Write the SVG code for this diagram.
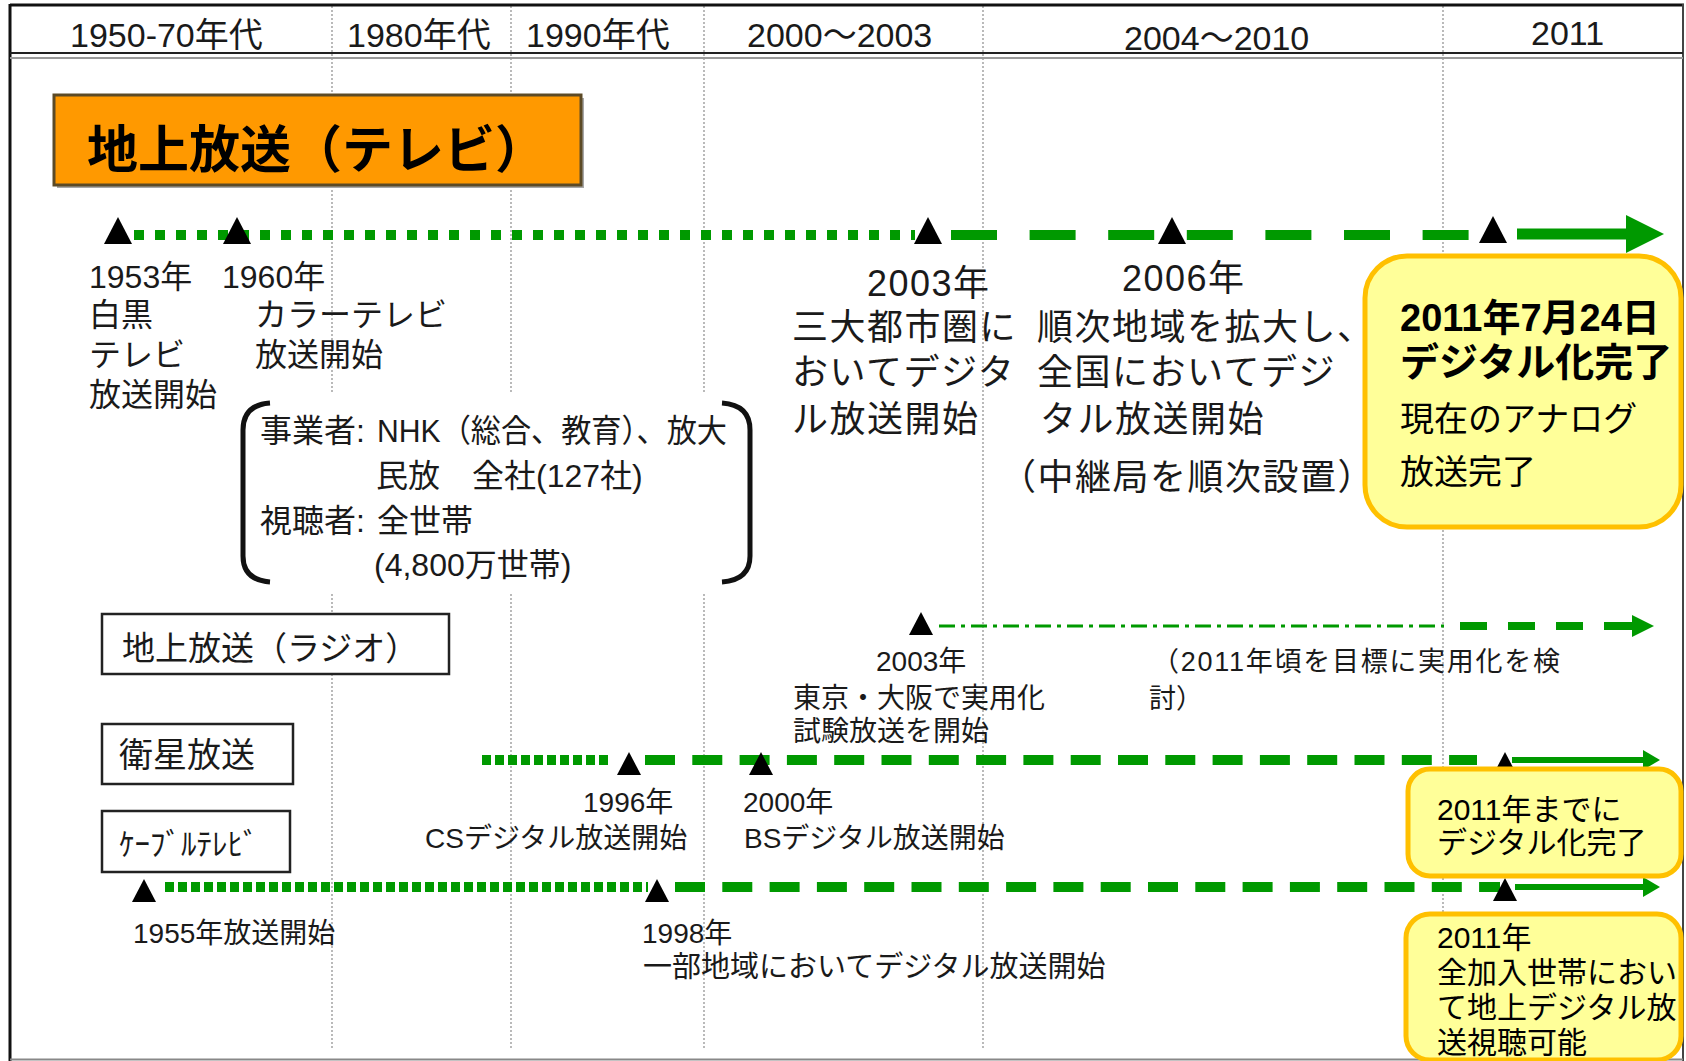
<svg xmlns="http://www.w3.org/2000/svg" width="1686" height="1061" viewBox="0 0 1686 1061">
<style>
text{font-family:'Liberation Sans','Noto Sans CJK JP',sans-serif;fill:#1a1a1a}
.hd{font-size:34px}
.l32{font-size:32px}
.l36{font-size:36px;letter-spacing:1.5px}
.l28{font-size:28px}
.l30{font-size:30px;fill:#000}
.yb{fill:#FFFF99;stroke:#FFC000;stroke-width:5}
.box{fill:#fff;stroke:#222;stroke-width:2.5}
.div{stroke:#8c8c8c;stroke-width:1.2;stroke-dasharray:2 2}
.g{fill:none;stroke:#009900}
.tri{fill:#000}
</style>
<defs>
<path id="triL" d="M0,-17 L14,10 L-14,10 Z"/>
<path id="triS" d="M0,-13 L12,10 L-12,10 Z"/>
<marker id="headBig" markerUnits="userSpaceOnUse" markerWidth="40" markerHeight="40" refX="0" refY="19" orient="auto"><path d="M0,0 L38,19 L0,38 Z" fill="#009900"/></marker>
<marker id="headSm" markerUnits="userSpaceOnUse" markerWidth="20" markerHeight="22" refX="0" refY="10" orient="auto"><path d="M0,0 L17,10 L0,20 Z" fill="#009900"/></marker>
<marker id="headRadio" markerUnits="userSpaceOnUse" markerWidth="24" markerHeight="24" refX="0" refY="11" orient="auto"><path d="M0,0 L22,11 L0,22 Z" fill="#009900"/></marker>
</defs>

<g id="frame">
<rect x="0" y="0" width="1686" height="1061" fill="#fff"/>
<g id="dividers">
<line class="div" x1="332" y1="6" x2="332" y2="1048"/>
<line class="div" x1="511" y1="6" x2="511" y2="1048"/>
<line class="div" x1="704" y1="6" x2="704" y2="1048"/>
<line class="div" x1="983" y1="6" x2="983" y2="1048"/>
<line class="div" x1="1443" y1="6" x2="1443" y2="1048"/>
</g>
<line x1="10" y1="5" x2="1684" y2="5" stroke="#111" stroke-width="3"/>
<line x1="10" y1="4" x2="10" y2="1061" stroke="#111" stroke-width="3"/>
<line x1="1683" y1="4" x2="1683" y2="1061" stroke="#444" stroke-width="2"/>
<line x1="10" y1="1059.5" x2="1683" y2="1059.5" stroke="#888" stroke-width="2"/>
<line x1="10" y1="53" x2="1683" y2="53" stroke="#222" stroke-width="2"/>
<line x1="10" y1="58" x2="1683" y2="58" stroke="#9a9a9a" stroke-width="2"/>
</g>

<g id="header">
<text class="hd" x="70" y="47">1950-70年代</text>
<text class="hd" x="347" y="47">1980年代</text>
<text class="hd" x="526" y="47">1990年代</text>
<text class="hd" x="747" y="47">2000～2003</text>
<text class="hd" x="1124" y="50">2004～2010</text>
<text class="hd" x="1531" y="45">2011</text>
</g>

<g id="title-tv">
<rect x="57" y="98" width="527" height="90" fill="#a8a8a8"/>
<rect x="54" y="95" width="527" height="90" fill="#FF9900" stroke="#5c4a26" stroke-width="3"/>
<text x="87" y="168" font-size="51" font-weight="bold" style="fill:#000">地上放送（テレビ）</text>
</g>

<g id="tv-labels-left">
<text class="l32" x="89" y="288">1953年</text>
<text class="l32" x="89" y="326">白黒</text>
<text class="l32" x="89" y="366">テレビ</text>
<text class="l32" x="89" y="406">放送開始</text>
<text class="l32" x="222" y="288">1960年</text>
<text class="l32" x="255" y="326">カラーテレビ</text>
<text class="l32" x="255" y="366">放送開始</text>
</g>

<g id="tv-operators">
<rect x="232" y="394" width="530" height="198" fill="#fff"/>
<path d="M270,403 Q243,405 243,430 L243,556 Q243,580 270,582" fill="none" stroke="#111" stroke-width="5"/>
<path d="M722,403 Q750,405 750,430 L750,556 Q750,580 722,582" fill="none" stroke="#111" stroke-width="5"/>
<text class="l32" x="260" y="442">事業者:<tspan x="377" textLength="350" lengthAdjust="spacingAndGlyphs">NHK（総合、教育）、放大</tspan></text>
<text class="l32" x="376" y="487">民放　全社(127社)</text>
<text class="l32" x="260" y="532">視聴者:<tspan x="377">全世帯</tspan></text>
<text class="l32" x="374" y="576">(4,800万世帯)</text>
</g>

<g id="tv-labels-right">
<text class="l36" x="867" y="296">2003年</text>
<text class="l36" x="792" y="340">三大都市圏に</text>
<text class="l36" x="792" y="385">おいてデジタ</text>
<text class="l36" x="792" y="432">ル放送開始</text>
<text class="l36" x="1122" y="291">2006年</text>
<text class="l36" x="1037" y="340">順次地域を拡大し、</text>
<text class="l36" x="1037" y="385">全国においてデジ</text>
<text class="l36" x="1040" y="432">タル放送開始</text>
<text class="l36" x="1000" y="490">（中継局を順次設置）</text>
</g>

<g id="radio-box">
<rect class="box" x="102" y="614" width="347" height="60"/>
<text x="122" y="660" font-size="33">地上放送（ラジオ）</text>
</g>
<g id="radio-labels">
<text class="l28" x="876" y="671">2003年</text>
<text class="l28" x="793" y="708">東京・大阪で実用化</text>
<text class="l28" x="793" y="741">試験放送を開始</text>
<text x="1152" y="671" font-size="27" textLength="408" lengthAdjust="spacing">（2011年頃を目標に実用化を検</text>
<text x="1149" y="708" font-size="27">討）</text>
</g>

<g id="satellite-box">
<rect class="box" x="102" y="724" width="191" height="60"/>
<text x="119" y="767" font-size="34">衛星放送</text>
</g>
<g id="satellite-labels">
<text class="l28" x="583" y="812">1996年</text>
<text class="l28" x="425" y="848">CSデジタル放送開始</text>
<text class="l28" x="743" y="812">2000年</text>
<text class="l28" x="744" y="848">BSデジタル放送開始</text>
</g>

<g id="cable-box">
<rect class="box" x="102" y="811" width="188" height="61"/>
<text x="119" y="855" font-size="31">ｹｰﾌﾞﾙﾃﾚﾋﾞ</text>
</g>
<g id="cable-labels">
<text class="l28" x="133" y="943">1955年放送開始</text>
<text class="l28" x="642" y="943">1998年</text>
<text x="643" y="977" font-size="29">一部地域においてデジタル放送開始</text>
</g>

<g id="connectors">
<line class="g" x1="134" y1="235" x2="915" y2="235" stroke-width="10" stroke-dasharray="10 11"/>
<line class="g" x1="951" y1="235" x2="1469" y2="235" stroke-width="10" stroke-dasharray="46 32.6"/>
<line class="g" x1="1517" y1="234" x2="1626" y2="234" stroke-width="11" marker-end="url(#headBig)"/>

<line class="g" x1="939" y1="626" x2="1444" y2="626" stroke-width="3" stroke-dasharray="16 6 4 6"/>
<line class="g" x1="1460" y1="626" x2="1631" y2="626" stroke-width="8" stroke-dasharray="27 21"/>
<line class="g" x1="1630" y1="626" x2="1632" y2="626" stroke-width="8" marker-end="url(#headRadio)"/>

<line class="g" x1="482" y1="760" x2="612" y2="760" stroke-width="10" stroke-dasharray="9 4"/>
<line class="g" x1="645" y1="760" x2="1477" y2="760" stroke-width="10" stroke-dasharray="30 17.3"/>
<line class="g" x1="1512" y1="760" x2="1643" y2="760" stroke-width="6" marker-end="url(#headSm)"/>

<line class="g" x1="165" y1="887" x2="648" y2="887" stroke-width="10" stroke-dasharray="9 4"/>
<line class="g" x1="675" y1="887" x2="1500" y2="887" stroke-width="10" stroke-dasharray="30 17.3"/>
<line class="g" x1="1515" y1="887" x2="1643" y2="887" stroke-width="6" marker-end="url(#headSm)"/>
</g>

<g id="milestones">
<use href="#triL" class="tri" x="118" y="234"/>
<use href="#triL" class="tri" x="237" y="234"/>
<use href="#triL" class="tri" x="928" y="234"/>
<use href="#triL" class="tri" x="1172" y="234"/>
<use href="#triL" class="tri" x="1493" y="233"/>
<use href="#triS" class="tri" x="921" y="625"/>
<use href="#triS" class="tri" x="629" y="765"/>
<use href="#triS" class="tri" x="761" y="765"/>
<use href="#triS" class="tri" x="1505" y="765"/>
<use href="#triS" class="tri" x="144" y="892"/>
<use href="#triS" class="tri" x="657" y="892"/>
<use href="#triS" class="tri" x="1505" y="891"/>
</g>

<g id="note-tv-2011">
<rect class="yb" x="1365" y="256" width="316" height="271" rx="42"/>
<text x="1400" y="331" font-size="38" font-weight="bold" style="fill:#000">2011年7月24日</text>
<text x="1400" y="376" font-size="39" font-weight="bold" style="fill:#000">デジタル化完了</text>
<text x="1400" y="431" font-size="34" style="fill:#000">現在のアナログ</text>
<text x="1400" y="484" font-size="34" style="fill:#000">放送完了</text>
</g>

<g id="note-satellite-2011">
<rect class="yb" x="1408" y="769" width="273" height="107" rx="22"/>
<text class="l30" x="1437" y="820">2011年までに</text>
<text class="l30" x="1437" y="853">デジタル化完了</text>
</g>

<g id="note-cable-2011">
<rect class="yb" x="1406" y="914" width="275" height="146" rx="24"/>
<text class="l30" x="1437" y="948">2011年</text>
<text class="l30" x="1437" y="983">全加入世帯におい</text>
<text class="l30" x="1437" y="1018">て地上デジタル放</text>
<text class="l30" x="1437" y="1053">送視聴可能</text>
</g>
</svg>
